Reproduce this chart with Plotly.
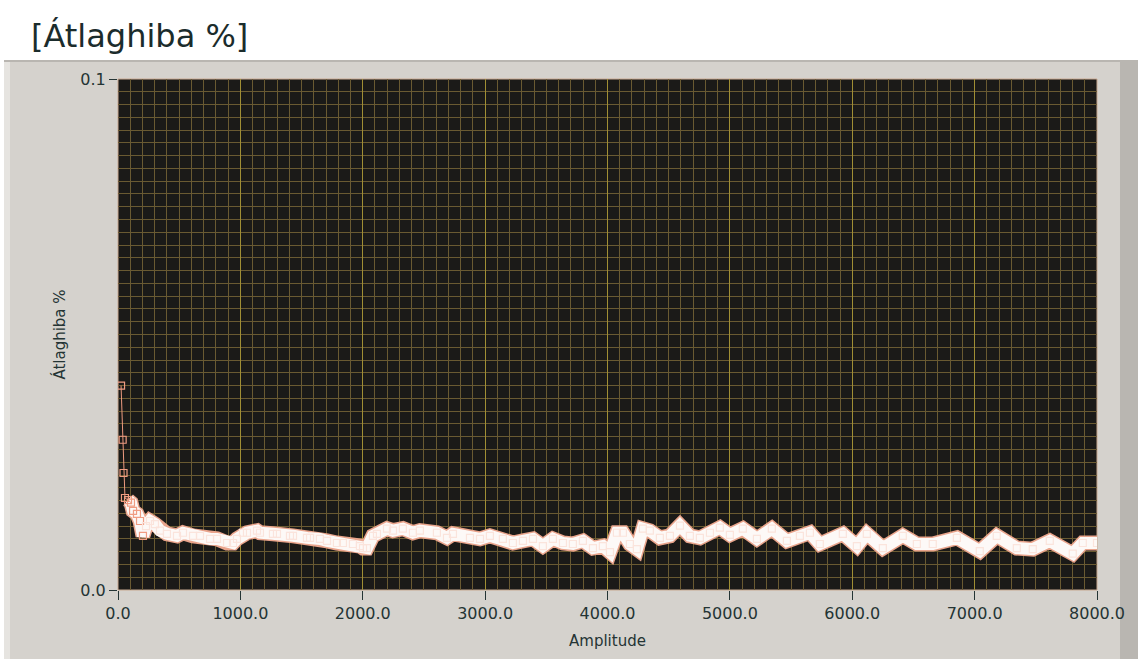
import plotly.graph_objects as go

# Amplitude sweep and the measured mean error (%)
amplitude = [
    25, 38, 45, 57, 82, 106, 123, 155, 180, 204, 229, 261, 302, 343, 400, 482,
    531, 613, 670, 752, 809, 891, 940, 972, 1021, 1054, 1136, 1160, 1266, 1299,
    1405, 1430, 1544, 1569, 1650, 1708, 1789, 1838, 1920, 1977, 2002, 2034, 2083,
    2116, 2198, 2247, 2328, 2410, 2467, 2606, 2688, 2737, 2876, 2958, 3039, 3145,
    3227, 3309, 3391, 3472, 3554, 3636, 3717, 3799, 3881, 3962, 4020, 4077, 4126,
    4183, 4240, 4289, 4346, 4428, 4510, 4592, 4673, 4755, 4837, 4918, 5000, 5106,
    5221, 5343, 5466, 5572, 5654, 5735, 5923, 6038, 6119, 6250, 6413, 6528, 6658,
    6855, 7042, 7181, 7345, 7475, 7614, 7802, 7884, 8000,
]
mean_error = [
    0.0400, 0.0294, 0.0229, 0.0180, 0.0176, 0.0171, 0.0155, 0.0149, 0.0135,
    0.0106, 0.0125, 0.0135, 0.0129, 0.0116, 0.0110, 0.0106, 0.0112, 0.0106,
    0.0106, 0.0100, 0.0100, 0.0092, 0.0092, 0.0100, 0.0112, 0.0112, 0.0116,
    0.0112, 0.0110, 0.0110, 0.0106, 0.0106, 0.0102, 0.0102, 0.0100, 0.0096,
    0.0092, 0.0092, 0.0090, 0.0086, 0.0082, 0.0082, 0.0106, 0.0110, 0.0120,
    0.0116, 0.0120, 0.0112, 0.0116, 0.0112, 0.0102, 0.0110, 0.0102, 0.0100,
    0.0106, 0.0100, 0.0092, 0.0096, 0.0100, 0.0086, 0.0100, 0.0092, 0.0090,
    0.0096, 0.0082, 0.0086, 0.0074, 0.0112, 0.0112, 0.0090, 0.0080, 0.0120,
    0.0116, 0.0102, 0.0106, 0.0126, 0.0106, 0.0102, 0.0112, 0.0122, 0.0108,
    0.0120, 0.0100, 0.0120, 0.0096, 0.0106, 0.0112, 0.0090, 0.0110, 0.0086,
    0.0110, 0.0082, 0.0106, 0.0090, 0.0090, 0.0102, 0.0076, 0.0106, 0.0082,
    0.0080, 0.0096, 0.0071, 0.0092, 0.0092,
]

x_ticks = [0, 1000, 2000, 3000, 4000, 5000, 6000, 7000, 8000]
y_ticks = [0.0, 0.1]

title_text = "[Átlaghiba %]"
y_title = "Átlaghiba %"
x_title = "Amplitude"

TEXT = "#243434"
FONT = "DejaVu Sans"

# the dense part of the sweep is drawn as a broad light band,
# the sparse low-amplitude start as a thin connecting line
band_start = 4
band_x = amplitude[band_start:]
band_y = mean_error[band_start:]
head_x = amplitude[:band_start + 2]
head_y = mean_error[:band_start + 2]

marker_colors = ["#f09c82" if i < 10 else "#fbe4dc" for i in range(len(amplitude))]

fig = go.Figure()
fig.add_trace(go.Scatter(
    x=band_x, y=band_y, mode="lines",
    line=dict(color="#e9a48c", width=15), hoverinfo="skip", showlegend=False,
))
fig.add_trace(go.Scatter(
    x=band_x, y=band_y, mode="lines",
    line=dict(color="#fdf9f7", width=12), hoverinfo="skip", showlegend=False,
))
fig.add_trace(go.Scatter(
    x=head_x, y=head_y, mode="lines",
    line=dict(color="#ee9a80", width=1), hoverinfo="skip", showlegend=False,
))
fig.add_trace(go.Scatter(
    x=amplitude, y=mean_error, mode="markers",
    marker=dict(symbol="square-open", size=7, color=marker_colors,
                line=dict(width=1.2)),
    showlegend=False,
))

W, H = 1138, 659
L, R, T, B = 118, 41, 79, 69
pw, ph = W - L - R, H - T - B


def px_x(p):
    return (p - L) / pw


def px_y(p):
    return (H - B - p) / ph


fig.update_layout(
    width=W, height=H,
    margin=dict(l=L, r=R, t=T, b=B),
    paper_bgcolor="white",
    plot_bgcolor="#1d1c1a",
    font=dict(family=FONT, color=TEXT, size=13),
    shapes=[
        # grey front-panel frame
        dict(type="rect", xref="paper", yref="paper", layer="below",
             x0=px_x(4), x1=px_x(1138), y0=px_y(659), y1=px_y(60),
             fillcolor="#b9b6b1", line=dict(width=0)),
        dict(type="rect", xref="paper", yref="paper", layer="below",
             x0=px_x(4), x1=px_x(1120), y0=px_y(659), y1=px_y(62),
             fillcolor="#d5d2cd", line=dict(width=0)),
        dict(type="rect", xref="paper", yref="paper", layer="below",
             x0=px_x(4), x1=px_x(10), y0=px_y(659), y1=px_y(62),
             fillcolor="#e6e4e0", line=dict(width=0)),
        # dark graph screen
        dict(type="rect", xref="paper", yref="paper", layer="below",
             x0=0, x1=1, y0=0, y1=1,
             fillcolor="#1b1a18", line=dict(width=1, color="#c8a890")),
    ],
    annotations=[
        dict(text=title_text, xref="paper", yref="paper",
             x=px_x(29), y=px_y(36), xanchor="left", yanchor="middle",
             showarrow=False, font=dict(size=32, color="#1b2c2c", family=FONT)),
    ],
)

fig.update_xaxes(
    range=[0, 8000], tickvals=x_ticks, tickformat=".1f",
    showgrid=True, gridcolor="#a08e34", gridwidth=1,
    minor=dict(dtick=100, tick0=0, showgrid=True, gridcolor="#6a5a32",
               gridwidth=1, ticks=""),
    ticks="outside", ticklen=9, tickcolor=TEXT, tickwidth=1,
    tickfont=dict(size=16, color=TEXT),
    title=dict(text=x_title, font=dict(size=15, color=TEXT), standoff=13),
    zeroline=False, showline=False,
)
fig.update_yaxes(
    range=[0, 0.1], tickvals=y_ticks, tickformat=".1f",
    showgrid=True, gridcolor="#6a5a32", gridwidth=1,
    minor=dict(dtick=0.0025, tick0=0, showgrid=True, gridcolor="#6a5a32",
               gridwidth=1, ticks=""),
    ticks="outside", ticklen=8, tickcolor=TEXT, tickwidth=1,
    tickfont=dict(size=16, color=TEXT),
    title=dict(text=y_title, font=dict(size=15, color=TEXT), standoff=11),
    zeroline=False, showline=False,
)

fig.write_html("out.html")
